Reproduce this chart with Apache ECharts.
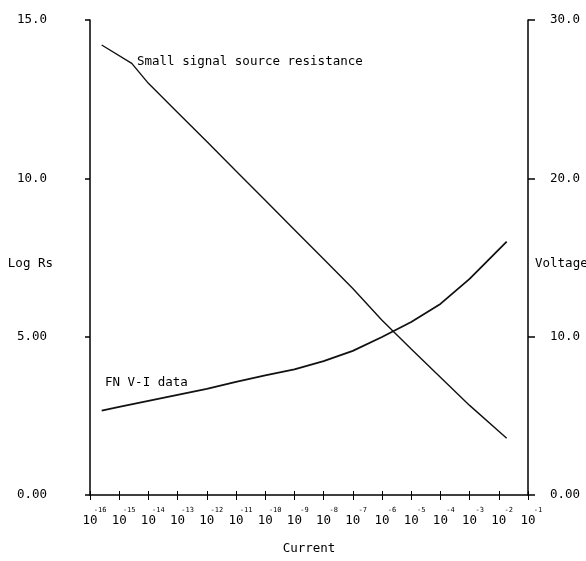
<!DOCTYPE html>
<html>
<head>
<meta charset="utf-8">
<script src="https://cdn.jsdelivr.net/npm/echarts@6/dist/echarts.min.js"></script>
<style>
  html, body { margin: 0; padding: 0; background: #fff; }
  #chart { width: 586px; height: 561px; }
</style>
</head>
<body>
<div id="chart"></div>
<script>
// Data (x = log10 of current)
const rsLogI   = [-15.6, -14.57, -14, -13, -12, -11, -10, -9, -8, -7, -6, -5, -4, -3, -1.73];
const rsValues = [14.21, 13.63, 13.0, 12.08, 11.16, 10.23, 9.31, 8.38, 7.45, 6.52, 5.52, 4.61, 3.72, 2.83, 1.79];
const vLogI    = [-15.6, -15, -14, -13, -12, -11, -10, -9, -8, -7, -6, -5, -4, -3, -1.73];
const vValues  = [5.33, 5.56, 5.94, 6.32, 6.70, 7.14, 7.55, 7.93, 8.46, 9.10, 9.98, 10.93, 12.07, 13.65, 16.0];
const xExponents = [-16, -15, -14, -13, -12, -11, -10, -9, -8, -7, -6, -5, -4, -3, -2, -1];
const leftTicks  = [0, 5, 10, 15];
const rightTicks = [0, 10, 20, 30];
const seriesNames = ['Small signal source resistance', 'FN V-I data'];
const axisNames = { x: 'Current', left: 'Log Rs', right: 'Voltage' };

const FONT = "'DejaVu Sans Mono', 'Liberation Mono', monospace";
const FS = 12.5;
const fmtY = v => (v < 10 ? v.toFixed(2) : v.toFixed(1));

const chart = echarts.init(document.getElementById('chart'), null, { renderer: 'canvas' });

const xBase = {
  type: 'value',
  min: xExponents[0],
  max: xExponents[xExponents.length - 1],
  interval: 1,
  position: 'bottom',
  splitLine: { show: false }
};

const option = {
  backgroundColor: '#fff',
  animation: false,
  grid: { left: 90, right: 58, top: 20, bottom: 66, containLabel: false, outerBoundsMode: 'none' },
  xAxis: [
    Object.assign({}, xBase, {
      name: axisNames.x,
      nameLocation: 'middle',
      nameGap: 47,
      nameMoveOverlap: false,
      nameTextStyle: { color: '#000', fontFamily: FONT, fontSize: FS },
      axisLine: { show: true, lineStyle: { color: '#000', width: 1.5 } },
      axisTick: { show: true, inside: false, length: 5, lineStyle: { color: '#000', width: 1 } },
      axisLabel: {
        show: true,
        margin: 12,
        showMinLabel: true,
        showMaxLabel: true,
        hideOverlap: false,
        formatter: v => '{p|}{b|10}{s|' + v + '}',
        rich: {
          p: { width: 5, fontSize: 7, fontFamily: FONT },
          b: { fontSize: FS, fontFamily: FONT, color: '#000', verticalAlign: 'bottom', lineHeight: 20 },
          s: { width: 5, align: 'left', fontSize: 7, fontFamily: FONT, color: '#000', verticalAlign: 'top', lineHeight: 20 }
        }
      }
    }),
    Object.assign({}, xBase, {
      axisLine: { show: false },
      axisTick: { show: true, inside: true, length: 4, lineStyle: { color: '#000', width: 1 } },
      axisLabel: { show: false }
    })
  ],
  yAxis: [
    {
      type: 'value',
      position: 'left',
      min: leftTicks[0],
      max: leftTicks[leftTicks.length - 1],
      interval: leftTicks[1] - leftTicks[0],
      name: axisNames.left,
      nameLocation: 'middle',
      nameRotate: 0,
      nameGap: 37,
      nameMoveOverlap: false,
      nameTextStyle: { color: '#000', fontFamily: FONT, fontSize: FS, verticalAlign: 'top' },
      splitLine: { show: false },
      axisLine: { show: true, lineStyle: { color: '#000', width: 1.5 } },
      axisTick: { show: true, inside: false, length: 5, lineStyle: { color: '#000', width: 1.5 } },
      axisLabel: { margin: 43, color: '#000', fontFamily: FONT, fontSize: FS, formatter: fmtY, showMinLabel: true, showMaxLabel: true }
    },
    {
      type: 'value',
      position: 'right',
      min: rightTicks[0],
      max: rightTicks[rightTicks.length - 1],
      interval: rightTicks[1] - rightTicks[0],
      name: axisNames.right,
      nameLocation: 'middle',
      nameRotate: 0,
      nameGap: 7,
      nameMoveOverlap: false,
      nameTextStyle: { color: '#000', fontFamily: FONT, fontSize: FS, verticalAlign: 'top' },
      splitLine: { show: false },
      axisLine: { show: true, lineStyle: { color: '#000', width: 1.5 } },
      axisTick: { show: true, inside: false, length: 7, lineStyle: { color: '#000', width: 1.5 } },
      axisLabel: { margin: 22, color: '#000', fontFamily: FONT, fontSize: FS, formatter: fmtY, showMinLabel: true, showMaxLabel: true }
    }
  ],
  series: [
    {
      name: seriesNames[0],
      type: 'line',
      xAxisIndex: 0,
      yAxisIndex: 0,
      data: rsLogI.map((x, i) => [x, rsValues[i]]),
      showSymbol: false,
      symbol: 'none',
      lineStyle: { color: '#111', width: 1.4 }
    },
    {
      name: seriesNames[1],
      type: 'line',
      xAxisIndex: 0,
      yAxisIndex: 1,
      data: vLogI.map((x, i) => [x, vValues[i]]),
      showSymbol: false,
      symbol: 'none',
      lineStyle: { color: '#111', width: 1.8 }
    }
  ],
  graphic: [
    {
      type: 'text',
      x: 137, y: 62,
      style: { text: seriesNames[0], fill: '#000', font: FS + 'px ' + FONT, textVerticalAlign: 'middle' }
    },
    {
      type: 'text',
      x: 105, y: 383,
      style: { text: seriesNames[1], fill: '#000', font: FS + 'px ' + FONT, textVerticalAlign: 'middle' }
    }
  ]
};

chart.setOption(option);
</script>
</body>
</html>
